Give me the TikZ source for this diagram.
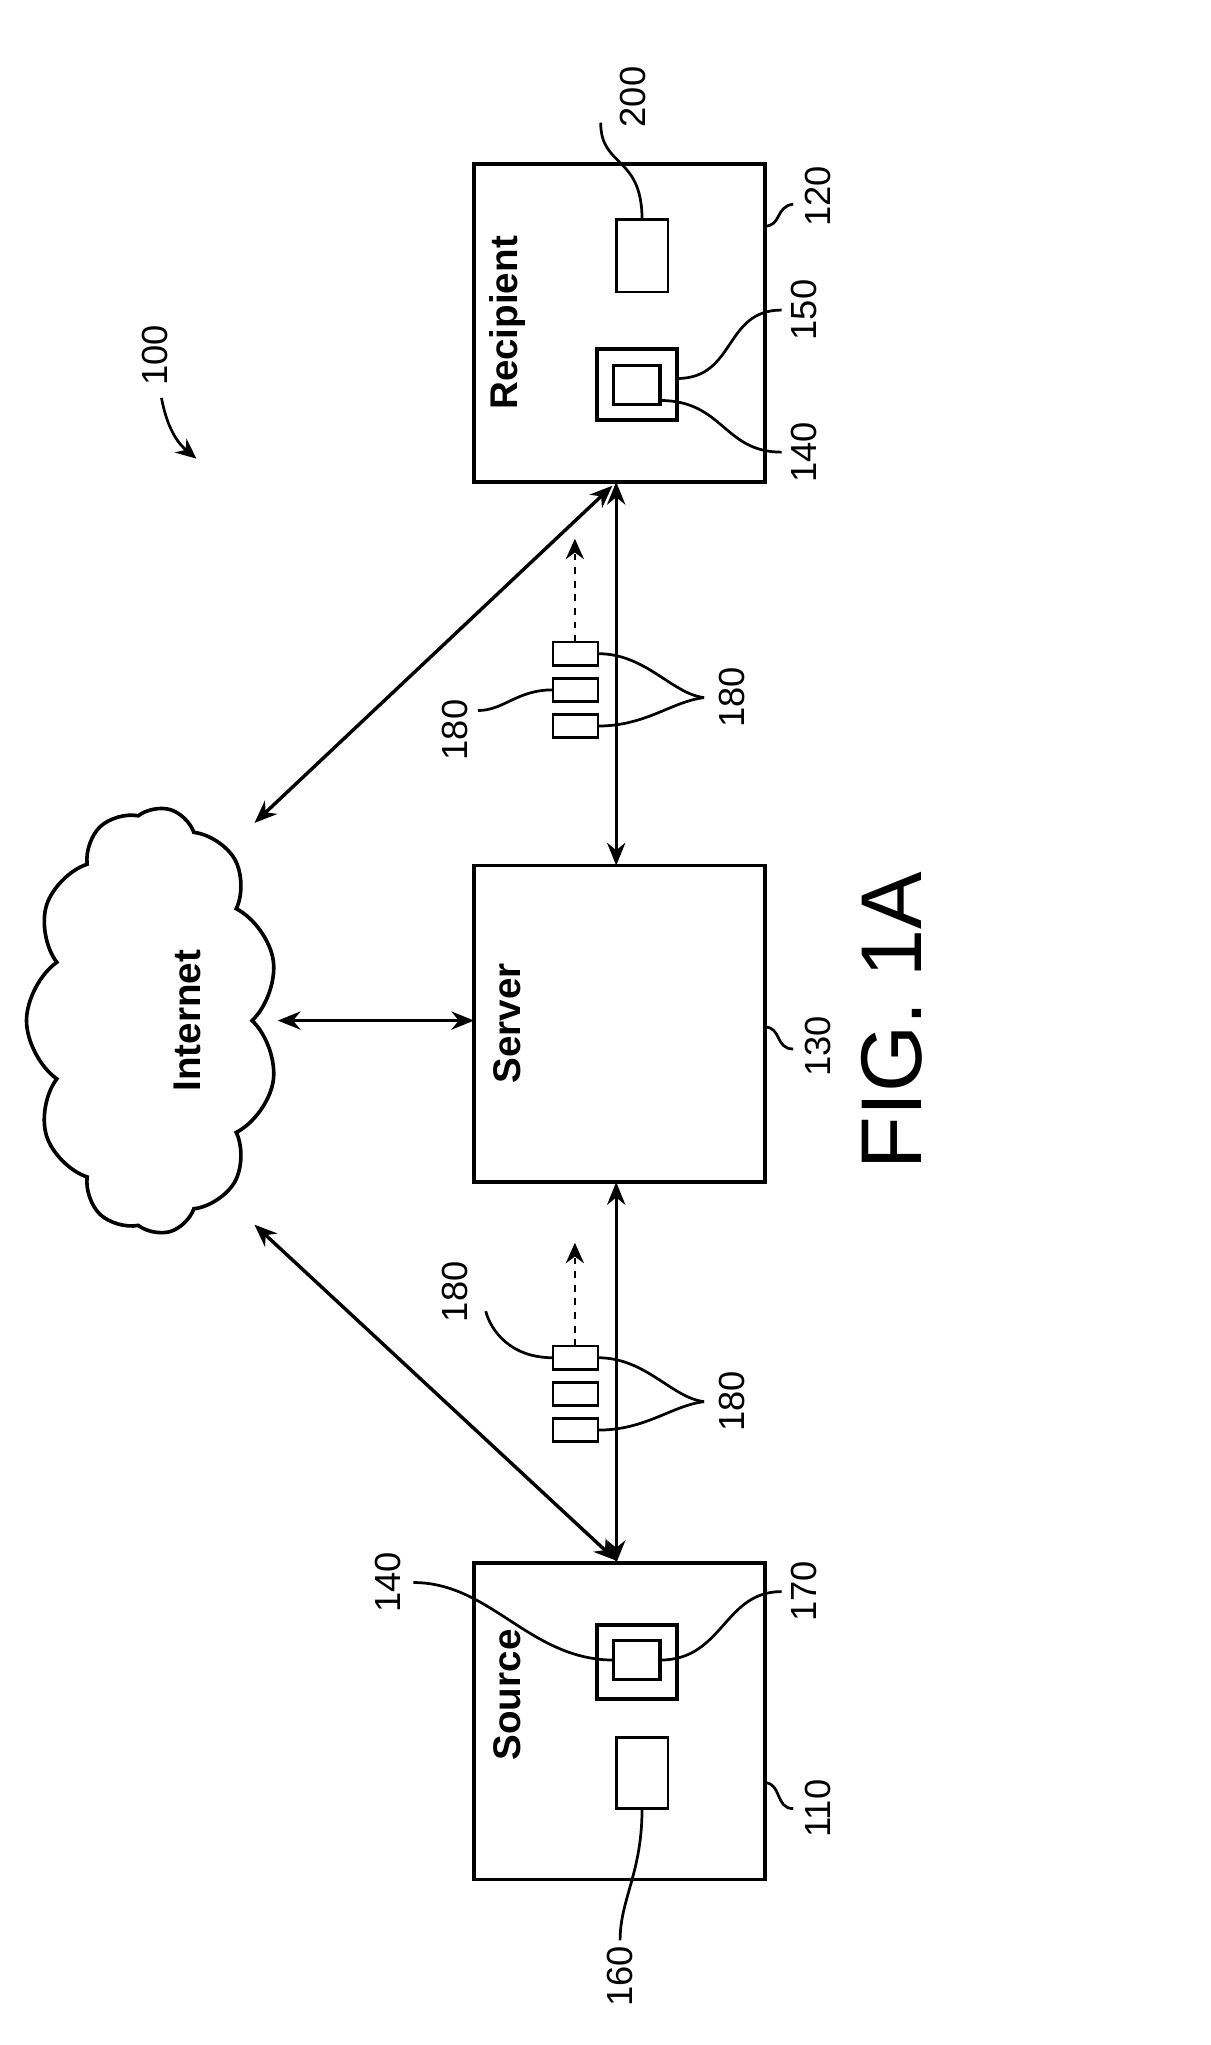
\documentclass[tikz,border=0pt]{standalone}
\usepackage{fontspec}
\setmainfont{Liberation Sans}
\usetikzlibrary{shapes.symbols,arrows.meta}
\begin{document}
\begin{tikzpicture}[x=0.02cm,y=-0.02cm,
    box/.style={draw, line width=1.6pt},
    lead/.style={line width=1.2pt},
    link/.style={line width=1.5pt, {Stealth[length=10pt,width=8pt]}-{Stealth[length=10pt,width=8pt]}},
    num/.style={rotate=90, font=\fontsize{16}{16}\selectfont},
    title/.style={rotate=90, font=\fontsize{17}{17}\selectfont\bfseries}]
    \useasboundingbox (0,0) rectangle (937,1583);
    % Boxes
    \draw[box] (367,127) rectangle (592,373);
    \draw[box] (367,670) rectangle (592,915);
    \draw[box] (367,1210) rectangle (592,1455);
    \node[title] (rcp) at (393,250) {Recipient};
    \node[title] (srv) at (393,792) {Server};
    \node[title] (src) at (393,1312) {Source};
    \coordinate (rcpbl) at (474,376);
    \coordinate (srctl) at (477,1208);
    % Recipient parts
    \draw[box, line width=1.2pt] (477,170) rectangle (517,226);
    \draw[box] (462,270) rectangle (524,325);
    \draw[box] (475,283) rectangle (511,313);
    \node[num] (n200) at (490,75) {200};
    \node[num] (n120) at (633,152) {120};
    \node[num] (n150) at (622,240) {150};
    \node[num] (n140a) at (622,350) {140};
    \draw[lead] (497,170) .. controls (497,120) and (465,130) .. (465,95);
    \draw[lead] (592,175) .. controls (605,175) and (600,160) .. (614,158);
    \draw[lead] (524,293) .. controls (570,293) and (560,240) .. (605,240);
    \draw[lead] (511,310) .. controls (560,310) and (560,350) .. (605,350);
    % Server
    \node[num] (n130) at (633,810) {130};
    \draw[lead] (592,795) .. controls (605,795) and (600,812) .. (614,812);
    % Source parts
    \draw[box, line width=1.2pt] (477,1345) rectangle (517,1400);
    \draw[box] (462,1258) rectangle (524,1315);
    \draw[box] (475,1270) rectangle (511,1300);
    \node[num] (n140b) at (300,1225) {140};
    \node[num] (n170) at (622,1232) {170};
    \node[num] (n110) at (633,1400) {110};
    \node[num] (n160) at (480,1530) {160};
    \draw[lead] (320,1225) .. controls (380,1225) and (410,1285) .. (475,1285);
    \draw[lead] (511,1285) .. controls (560,1285) and (560,1232) .. (605,1232);
    \draw[lead] (592,1380) .. controls (605,1380) and (600,1400) .. (614,1400);
    \draw[lead] (497,1400) .. controls (497,1450) and (480,1470) .. (480,1502);
    % Cloud
    \node[cloud, draw, line width=1.6pt, cloud puffs=11, cloud puff arc=110,
        aspect=1.6, minimum width=6.6cm, minimum height=3.9cm, rotate=90] (net) at (118,790) {};
    \node[title] (nett) at (145,790) {Internet};
    % Links
    \draw[link] (net.south) ++(0,0) coordinate (nete) (215,790) -- (367,790);
    \draw[link] (197,637) -- (rcpbl);
    \draw[link] (197,948) -- (srctl);
    \draw[link] (477,373) -- (477,670);
    \draw[link] (477,915) -- (477,1210);
    % Packets
    \foreach \y/\t in {497/a, 1042/b}
    {
        \foreach \k in {0,1,2}
            \draw[line width=1.2pt, fill=white] (428,\y+28*\k) rectangle (463,\y+18+28*\k);
        \draw[line width=1.2pt, dashed, -{Stealth[length=9pt,width=8pt]}] (445,\y) -- (445,\y-80);
        \draw[lead] (463,\y+9) .. controls (500,\y+9) and (520,\y+40) .. (545,\y+43);
        \draw[lead] (463,\y+65) .. controls (500,\y+65) and (520,\y+46) .. (545,\y+43);
    }
    \node[num] (p1r) at (567,540) {180};
    \node[num] (p1l) at (352,565) {180};
    \draw[lead] (428,534) .. controls (400,534) and (390,550) .. (370,550);
    \node[num] (p2r) at (567,1085) {180};
    \node[num] (p2l) at (352,1000) {180};
    \draw[lead] (428,1051) .. controls (395,1051) and (380,1030) .. (376,1015);
    % Figure reference
    \node[num] (n100) at (120,275) {100};
    \draw[line width=1.2pt, -{Stealth[length=9pt,width=8pt]}] (125,308) .. controls (130,335) and (140,345) .. (152,355);
    \node[rotate=90, font=\fontsize{38}{38}\selectfont] (fig) at (690,790) {FIG. 1A};
\end{tikzpicture}
\end{document}
